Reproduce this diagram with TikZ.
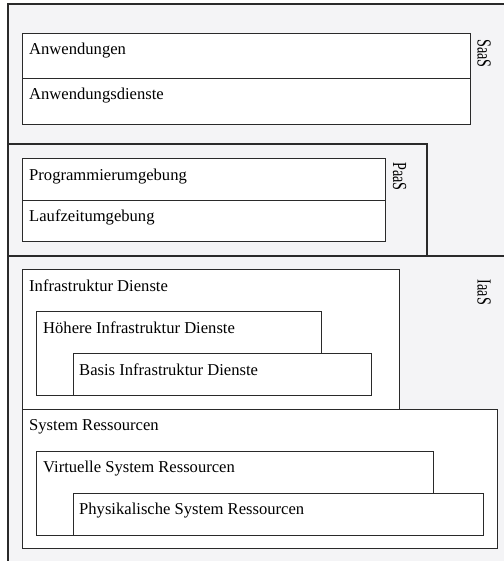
\documentclass[tikz,border=0pt]{standalone}
\usepackage{fontspec}
\setmainfont{Liberation Serif}
\usepackage{graphicx}
\definecolor{outerfill}{HTML}{F4F4F6}
\definecolor{linecol}{HTML}{2A2A2A}
\newcommand{\lyrtext}[1]{\rotatebox{-90}{\scalebox{0.85}[1.2]{#1}}}
\begin{document}
\begin{tikzpicture}[x=1pt,y=-1pt,
  outerbox/.style={draw=linecol,line width=1.4pt,fill=outerfill},
  ibox/.style={draw=linecol,line width=1pt,fill=white,inner sep=0pt,anchor=north west,rectangle},
  txt/.style={anchor=base west,inner sep=0pt,font=\fontsize{16.6}{20}\selectfont},
  lyr/.style={inner sep=0pt,font=\fontsize{16.6}{20}\selectfont}]
\useasboundingbox (0,0) rectangle (503,561);
\fill[white] (0,0) rectangle (503,561);
% outer layers
\draw[outerbox] (8,4) rectangle (515,256);
\draw[outerbox] (8,144) rectangle (427,256);
\draw[outerbox] (8,256) rectangle (515,575);
% SaaS
\node[ibox,minimum width=448pt,minimum height=45pt] (anw) at (22,33) {};
\node[ibox,minimum width=448pt,minimum height=46pt] (anwd) at (22,78) {};
\node[txt] (anwT) at (29,54.5) {Anwendungen};
\node[txt] (anwdT) at (29,99.5) {Anwendungsdienste};
\node[lyr] (saas) at (484,53.5) {\lyrtext{SaaS}};
% PaaS
\node[ibox,minimum width=363pt,minimum height=42pt] (prog) at (22,158) {};
\node[ibox,minimum width=363pt,minimum height=41pt] (lauf) at (22,200) {};
\node[txt] (progT) at (29,180.5) {Programmierumgebung};
\node[txt] (laufT) at (29,221.5) {Laufzeitumgebung};
\node[lyr] (paas) at (399.5,176.7) {\lyrtext{PaaS}};
% IaaS
\node[ibox,minimum width=377pt,minimum height=140pt] (infra) at (22,269) {};
\node[ibox,minimum width=285pt,minimum height=84pt] (hoeh) at (36,311) {};
\node[ibox,minimum width=298pt,minimum height=42pt] (basis) at (73,353) {};
\node[txt] (infraT) at (29,291) {Infrastruktur Dienste};
\node[txt] (hoehT) at (43,333) {Höhere Infrastruktur Dienste};
\node[txt] (basisT) at (79,375) {Basis Infrastruktur Dienste};
\node[ibox,minimum width=475pt,minimum height=139pt] (sys) at (22,409) {};
\node[ibox,minimum width=397pt,minimum height=84pt] (virt) at (36,451) {};
\node[ibox,minimum width=410pt,minimum height=42pt] (phys) at (73,493) {};
\node[txt] (sysT) at (29,430.7) {System Ressourcen};
\node[txt] (virtT) at (43,472.7) {Virtuelle System Ressourcen};
\node[txt] (physT) at (79,514) {Physikalische System Ressourcen};
\node[lyr] (iaas) at (484,292.5) {\lyrtext{IaaS}};
\end{tikzpicture}
\end{document}
